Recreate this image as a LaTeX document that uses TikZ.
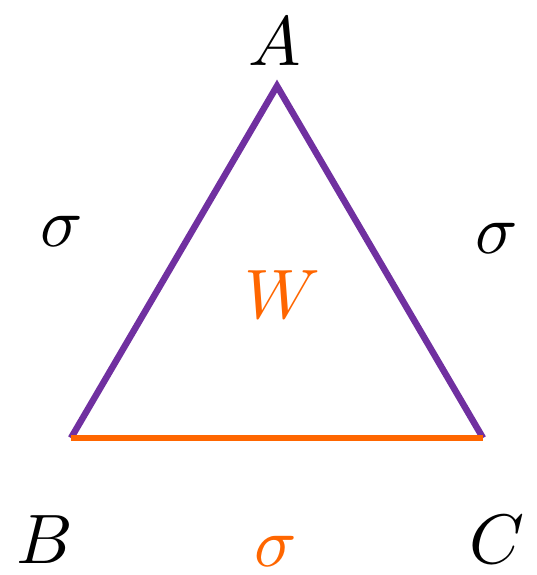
\documentclass[tikz,border=0pt]{standalone}
\definecolor{tripurple}{RGB}{112,48,160}
\definecolor{triorange}{RGB}{255,102,0}
\begin{document}
\begin{tikzpicture}[x=1pt,y=-1pt,
  lbl/.style={inner sep=0pt,scale=7},
  edge/.style={line width=6.5pt}]
\useasboundingbox (0,0) rectangle (536,575);
\coordinate (A) at (277,86);
\coordinate (B) at (71,438);
\coordinate (C) at (483,438);
\node[lbl] (la) at (275,42) {$A$};
\node[lbl] (lb) at (45,540) {$B$};
\node[lbl] (lc) at (497,540) {$C$};
\node[lbl] (s1) at (62,231) {$\sigma$};
\node[lbl] (s2) at (497,238) {$\sigma$};
\node[lbl,text=triorange] (s3) at (276,551) {$\sigma$};
\node[lbl,text=triorange] (w) at (282,295) {$W$};
\draw[edge,tripurple] (B) -- (A) -- (C);
\draw[edge,triorange] (B) -- (C);
\end{tikzpicture}
\end{document}
